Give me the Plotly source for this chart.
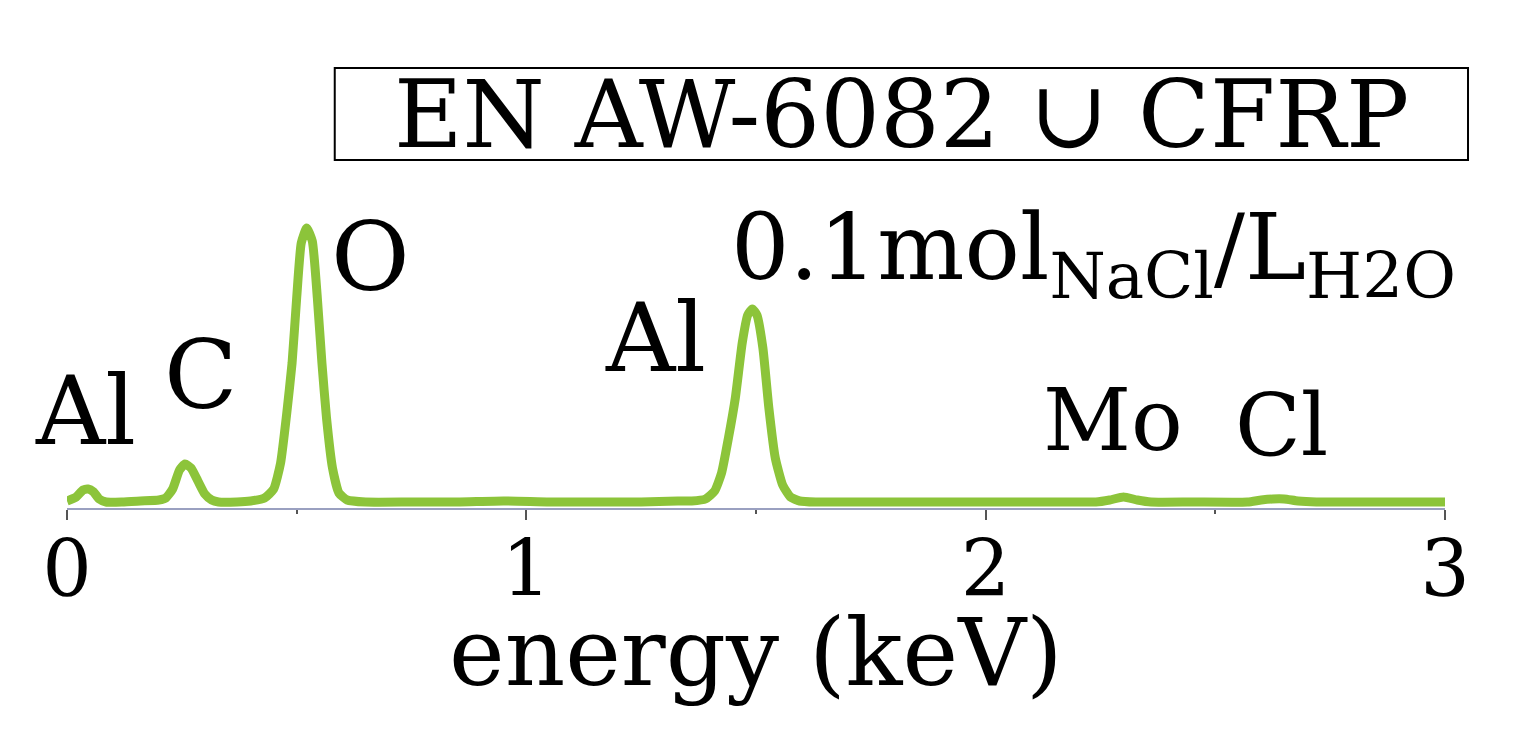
import plotly.graph_objects as go

# EDS spectrum (energy in keV, counts in arbitrary units)
energy = [0.0, 0.02, 0.035, 0.046, 0.058, 0.07, 0.085, 0.12, 0.16, 0.20,
          0.215, 0.23, 0.245, 0.257, 0.27, 0.285, 0.30, 0.315, 0.33, 0.37,
          0.40, 0.43, 0.45, 0.465, 0.478, 0.49, 0.50, 0.51, 0.522, 0.534,
          0.545, 0.555, 0.565, 0.578, 0.592, 0.61, 0.65, 0.75, 0.85, 0.95,
          1.05, 1.15, 1.25, 1.33, 1.36, 1.39, 1.41, 1.425, 1.44, 1.455,
          1.47, 1.482, 1.492, 1.502, 1.515, 1.528, 1.542, 1.558, 1.575, 1.595,
          1.63, 1.75, 1.9, 2.05, 2.2, 2.24, 2.27, 2.30, 2.33, 2.36,
          2.45, 2.57, 2.60, 2.625, 2.65, 2.68, 2.72, 2.85, 3.0]
counts = [2, 6, 13, 14, 11, 4, 1, 1, 2, 3,
          5, 14, 33, 39, 35, 22, 9, 3, 1, 1,
          2, 5, 14, 40, 88, 140, 205, 260, 275, 262,
          205, 140, 85, 35, 10, 3, 1, 1, 1, 2,
          1, 1, 1, 2, 2, 4, 12, 30, 65, 105,
          160, 188, 194, 188, 155, 95, 45, 18, 6, 2,
          1, 1, 1, 1, 1, 1, 3, 6, 3, 1,
          1, 1, 3, 4, 4, 2, 1, 1, 1]

# peak labels
labels = ["Al", "C", "O", "Al", "Mo", "Cl"]
label_x = [0.04, 0.29, 0.66, 1.282, 2.277, 2.645]
label_y = [92, 128, 246, 165, 83, 78]
label_size = [96, 96, 96, 96, 86, 86]

title_text = "EN AW-6082 \u222a CFRP"
medium_text = "0.1mol<sub>NaCl</sub>/L<sub>H2O</sub>"

tick_vals = [0, 1, 2, 3]
tick_text = ["0", "1", "2", "3"]

serif = "DejaVu Serif"
green = "#8cc43a"

fig = go.Figure()
fig.add_trace(go.Scatter(x=energy, y=counts, mode="lines",
                         line=dict(color=green, width=9, shape="spline", smoothing=0.5),
                         hoverinfo="skip", showlegend=False))

for txt, lx, ly, sz in zip(labels, label_x, label_y, label_size):
    fig.add_annotation(x=lx, y=ly, text=txt, showarrow=False,
                       font=dict(family=serif, size=sz, color="black"))

# boxed title above the plot area
fig.add_shape(type="rect", xref="paper", yref="paper", x0=0.1943, x1=1.0167, y0=1.184, y1=1.497,
              line=dict(color="black", width=2), fillcolor="rgba(0,0,0,0)")
fig.add_annotation(x=1.816, y=1.34, yref="paper", yanchor="middle", text=title_text,
                   showarrow=False, font=dict(family=serif, size=94, color="black"))

# electrolyte label
fig.add_annotation(x=2.235, y=250, text=medium_text, showarrow=False,
                   font=dict(family=serif, size=92, color="black"))

# axis title
fig.add_annotation(x=1.5, y=-0.49, yref="paper", yanchor="middle", text="energy (keV)",
                   showarrow=False, font=dict(family=serif, size=94, color="black"))

fig.update_layout(
    width=1524, height=746,
    margin=dict(l=59, r=87, t=206, b=246),
    paper_bgcolor="white", plot_bgcolor="white",
    xaxis=dict(range=[0, 3], showgrid=False, zeroline=False,
               showline=True, linecolor="#9aa0c0", linewidth=2,
               ticks="outside", ticklen=10, tickwidth=2, tickcolor="#555555",
               tickvals=tick_vals, ticktext=tick_text, ticklabelstandoff=-18,
               tickfont=dict(family=serif, size=78, color="black"),
               minor=dict(dtick=0.5, ticks="outside", ticklen=4, tickcolor="#555555")),
    yaxis=dict(range=[-5, 289], visible=False),
)

fig.write_html("out.html")
